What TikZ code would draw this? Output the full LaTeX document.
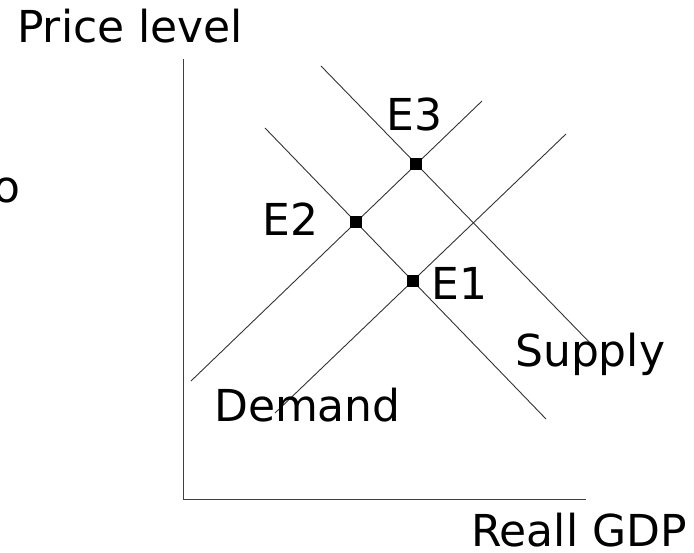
\documentclass[tikz,border=0pt]{standalone}
\usepackage{fontspec}
\setmainfont{DejaVu Sans}
\begin{document}
\begin{tikzpicture}[x=1pt,y=-1pt,
  curve/.style={draw=black!80,line width=0.9pt},
  axisline/.style={draw=black!75,line width=1pt},
  lbl/.style={anchor=base west,inner sep=0pt,text depth=0pt,font=\fontsize{44}{50}\selectfont},
  eqpt/.style={fill=black,draw=none,minimum size=12pt,inner sep=0pt,rectangle}]
\clip (0,0) rectangle (694,553);
\useasboundingbox (0,0) rectangle (694,553);
% axes
\coordinate (ytop) at (183,59);
\coordinate (orig) at (183,499);
\coordinate (xend) at (586,499);
\draw[axisline] (ytop) -- (orig) -- (xend);
% supply curves (upward)
\coordinate (s1a) at (191,381);
\coordinate (s1b) at (482,101);
\coordinate (s2a) at (275,413);
\coordinate (s2b) at (566,134);
% demand curves (downward)
\coordinate (d1a) at (265,128);
\coordinate (d1b) at (546,419);
\coordinate (d2a) at (321,66);
\coordinate (d2b) at (593,346);
\draw[curve] (s1a) -- (s1b);
\draw[curve] (s2a) -- (s2b);
\draw[curve] (d1a) -- (d1b);
\draw[curve] (d2a) -- (d2b);
% equilibria
\node[eqpt] (e1) at (intersection of d1a--d1b and s2a--s2b) {};
\node[eqpt] (e2) at (intersection of d1a--d1b and s1a--s1b) {};
\node[eqpt] (e3) at (intersection of d2a--d2b and s1a--s1b) {};
% labels
\node[lbl] (tpl) at (17,43) {Price level};
\node[lbl] (tpo) at (-7,203) {o};
\node[lbl] (te3) at (386,131) {E3};
\node[lbl] (te2) at (262,236) {E2};
\node[lbl] (te1) at (431,300) {E1};
\node[lbl] (tsup) at (515,367) {Supply};
\node[lbl] (tdem) at (214,422) {Demand};
\node[lbl] (tgdp) at (471,546) {Reall GDP};
\end{tikzpicture}
\end{document}
